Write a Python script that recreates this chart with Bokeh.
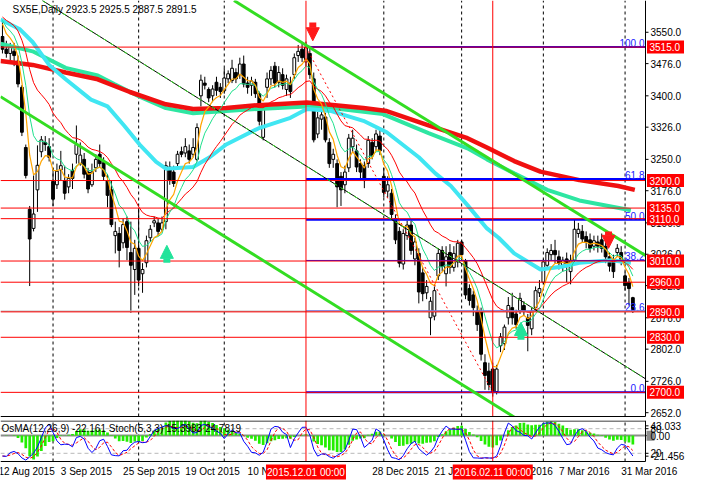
import numpy as np
import pandas as pd
from bokeh.plotting import figure
from bokeh.models import Range1d, Label, Arrow, NormalHead, ColumnDataSource
from bokeh.layouts import column
from bokeh.embed import file_html
from bokeh.resources import INLINE
from bokeh.core.properties import value

# ---------------- data (SX5E daily, 13 Aug 2015 .. 5 Apr 2016) ----------------
opens = [3540,3510,3500,3505,3482,3420,3278,3132,3087,3178,3268,3290,3280,3198,3190,3225,3200,3185,3224,3262,
         3240,3250,3220,3190,3230,3262,3242,3200,3178,3070,3075,3053,3103,3030,2990,3040,2980,3006,3065,3100,
         3100,3085,3103,3232,3220,3240,3268,3265,3270,3262,3250,3400,3430,3415,3400,3432,3420,3412,3440,3436,
         3455,3450,3475,3430,3425,3432,3405,3302,3420,3440,3470,3432,3450,3415,3430,3450,3495,3510,3480,3500,
         3440,3310,3345,3350,3290,3250,3240,3210,3190,3230,3280,3270,3240,3235,3240,3290,3280,3305,3210,3175,
         3170,3110,3080,3003,3070,3095,3015,3028,2982,2935,2876,2880,2975,3035,2980,3030,2995,3008,3055,3010,
         2945,2930,2892,2890,2770,2750,2755,2702,2810,2815,2876,2900,2885,2893,2905,2876,2850,2900,2935,2960,
         3000,3025,3035,3020,3000,3015,2985,3012,3075,3080,3068,3060,3045,3055,3060,3045,3020,3012,3030,3030,
         2975,2960,2923.5]
highs = [3575,3530,3525,3525,3495,3425,3285,3140,3212,3283,3305,3305,3300,3230,3240,3270,3235,3215,3240,3330,
         3290,3265,3230,3240,3262,3285,3255,3215,3200,3103,3090,3110,3115,3103,3060,3135,3005,3070,3095,3115,
         3110,3115,3245,3245,3235,3270,3280,3300,3285,3300,3335,3450,3445,3420,3425,3445,3430,3465,3460,3485,
         3465,3490,3495,3445,3445,3440,3410,3375,3455,3470,3480,3470,3465,3450,3445,3500,3520,3525,3528,3518,
         3455,3362,3375,3360,3300,3275,3250,3220,3235,3310,3320,3285,3250,3245,3305,3300,3320,3320,3230,3210,
         3180,3120,3090,3085,3105,3105,3065,3040,2995,2965,2925,2950,3040,3045,3045,3050,3045,3060,3060,3015,
         2955,2940,2905,2900,2790,2770,2770,2765,2840,2860,2925,2935,2895,2935,2915,2885,2900,2950,2965,3015,
         3040,3050,3060,3035,3020,3030,3025,3108,3100,3095,3080,3075,3070,3070,3075,3060,3030,3025,3050,3045,
         2985,2970,2925.5]
lows = [3500,3490,3480,3470,3420,3305,3205,2951,3080,3126,3255,3270,3245,3140,3180,3200,3155,3170,3180,3240,
        3235,3205,3170,3185,3220,3230,3200,3137,3090,3028,2995,3040,3012,2888,2930,2950,2935,2995,3055,3090,
        3070,3080,3085,3190,3185,3230,3255,3255,3240,3255,3245,3375,3415,3385,3385,3400,3395,3405,3430,3430,
        3430,3440,3420,3405,3400,3395,3330,3295,3395,3425,3420,3420,3415,3400,3395,3440,3480,3480,3470,3440,
        3290,3300,3320,3290,3230,3230,3137,3140,3170,3220,3265,3220,3200,3182,3230,3250,3270,3260,3160,3160,
        3110,3050,2995,2990,3060,3025,3000,2910,2915,2920,2835,2870,2965,2985,2950,2980,2985,2995,3015,2920,
        2905,2880,2845,2775,2706,2705,2690,2695,2795,2800,2860,2860,2850,2885,2880,2797,2835,2890,2925,2955,
        2990,3010,3005,2990,2985,2960,2955,3005,3065,3055,3040,3030,3035,3030,3030,3005,2985,2970,3020,3000,
        2940,2905,2887.5]
closes = [3510,3500,3515,3495,3428,3314,3212,3062,3121,3236,3296,3285,3255,3156,3222,3235,3170,3205,3205,3285,
          3260,3215,3180,3220,3250,3240,3210,3165,3096,3080,3035,3096,3042,3000,3040,2965,2990,3058,3085,3105,
          3080,3100,3235,3200,3193,3262,3262,3280,3250,3278,3325,3437,3425,3395,3416,3413,3410,3442,3452,3465,
          3440,3475,3428,3420,3435,3405,3340,3368,3440,3460,3430,3455,3425,3440,3410,3490,3505,3490,3515,3450,
          3296,3348,3355,3296,3240,3262,3185,3178,3220,3300,3300,3232,3220,3200,3295,3258,3310,3270,3172,3190,
          3120,3060,3005,3075,3095,3035,3055,2937,2933,2950,2915,2940,3028,2997,3020,2995,3028,3052,3025,2930,
          2917,2900,2860,2790,2740,2718,2700,2755,2831,2854,2905,2876,2860,2922,2892,2858,2892,2940,2945,3008,
          3030,3035,3025,3005,3012,2998,3010,3085,3085,3062,3055,3040,3058,3045,3040,3020,2998,2985,3040,3010,
          2952,2945,2891.5]

# long moving averages (bar index, price)
ma200_idx = [-0.5, 7.75, 16.25, 24.5, 32.75, 42, 49, 57.5, 65.75, 78.25, 92.75, 98.75, 109.5, 119.5, 124.5, 131.5, 138.25, 148.25, 158.25, 162.5]
ma200_val = [3482, 3473, 3455, 3439, 3409, 3380, 3369, 3371, 3378, 3384, 3371, 3364, 3330, 3300, 3278, 3246, 3221, 3201, 3187, 3178]
ma100_idx = [-0.5, 7.75, 16.25, 24.5, 28.75, 35.25, 42, 49, 57.5, 65.75, 78.25, 84.5, 97.75, 109.5, 119.5, 124.5, 131.5, 140, 148.25, 161.5]
ma100_val = [3523, 3505, 3466, 3448, 3428, 3398, 3371, 3359, 3364, 3369, 3375, 3371, 3357, 3312, 3276, 3250, 3217, 3178, 3153, 3130]
ma50_idx = [-0.5, 4.5, 7.75, 12, 16.25, 22.75, 27, 31.25, 35.25, 39.5, 42, 49, 53.25, 57.5, 65.75, 74, 78.25, 84.5, 92.75, 98.75,
            107, 111.25, 115.25, 119.5, 124.5, 127.5, 131.5, 138.25, 144, 148.25, 156.5, 161.5]
ma50_val = [3580, 3557, 3527, 3473, 3439, 3391, 3375, 3330, 3285, 3244, 3228, 3232, 3255, 3285, 3323, 3348, 3369, 3364, 3341, 3314,
            3255, 3217, 3187, 3142, 3087, 3065, 3028, 2990, 2997, 3006, 3012, 3006]
# starting values of the short averages at the first bar
ema_fast_start, ema_mid_start, ema_slow_start = 3570, 3578, 3586

# horizontal levels, fibonacci and trend objects
h_levels = [3515, 3200, 3135, 3110, 3010, 2960, 2890, 2830, 2700]
fibo_high, fibo_low = 3515, 2700
fibo_high_idx, fibo_low_idx = 78, 126
fibo_ratios = [1.0, 0.618, 0.5, 0.382, 0.236, 0.0]
fibo_texts = ["100.0", "61.8", "50.0", "38.2", "23.6", "0.0"]
chan_upper_idx, chan_upper_val = [59.5, 165.25], [3625, 3023]
chan_lower_idx, chan_lower_val = [-0.5, 165.25], [3398, 2448]
chan_mid_idx, chan_mid_val = [10.25, 165.25], [3625, 2732]
arrow_idx = [79.75, 155.75, 42.25, 133.25]
arrow_tail = [3573, 3080, 3006, 2824]
arrow_tip = [3530, 3040, 3047, 2865]
arrow_col = ["#FF1A1A", "#FF1A1A", "#22E39A", "#22E39A"]

price_ticks = [3550, 3476, 3400, 3326, 3250, 3176, 3100, 3026, 2952, 2876, 2802, 2726, 2652]
date_idx = [-1, 15, 31, 47, 63, 95, 111, 127, 143, 159]
date_labels = ["12 Aug 2015", "3 Sep 2015", "25 Sep 2015", "19 Oct 2015", "10 Nov 2015",
               "28 Dec 2015", "21 Jan 2016", "12 Feb 2016", "7 Mar 2016", "31 Mar 2016"]
grid_idx = [13, 35, 57, 98, 118, 139, 160]
marker_idx = [78, 126]
marker_text = ["2015.12.01 00:00", "2016.02.11 00:00"]
sub_ticks = [87, 80, 63, 20, 13]
sub_tick_labels = ["43.033", "80", "0.00", "20", "-21.456"]

# ---------------- derived indicator series ----------------
n = len(closes)
idx = np.arange(n)
c = pd.Series(closes, dtype=float)
hi = pd.Series(highs, dtype=float)
lo = pd.Series(lows, dtype=float)

def ema(series, period, start):
    a = 2.0 / (period + 1)
    out = [start]
    for v in series[1:]:
        out.append(a * v + (1 - a) * out[-1])
    return out

ema_fast = ema(list(c), 5, ema_fast_start)
ema_mid = ema(list(c), 9, ema_mid_start)
ema_slow = ema(list(c), 21, ema_slow_start)

macd = c.ewm(span=12, adjust=False).mean() - c.ewm(span=26, adjust=False).mean()
osma = macd - macd.rolling(9, min_periods=1).mean()
ll = lo.rolling(5, min_periods=1).min()
hh = hi.rolling(5, min_periods=1).max()
stk = 100 * (c - ll).rolling(3, min_periods=1).sum() / (hh - ll).rolling(3, min_periods=1).sum()
std = stk.rolling(3, min_periods=1).mean()

# ---------------- geometry ----------------
FONT = "Liberation Sans"
W_TOTAL, W_CHART = 685, 645
X0, X1 = -0.5, 165.25
XE = X0 + (X1 - X0) * W_TOTAL / W_CHART
PX = (XE - X0) / W_TOTAL          # bars per pixel
YB, Y1 = 2643, 3625               # chart bottom border / top
H_CHART, H_PAD = 416, 4
PY = (Y1 - YB) / H_CHART           # price per pixel
Y0 = YB - H_PAD * PY               # frame bottom (room for the lowest scale label)
H_SUB, H_DATES = 41, 21
S0 = -100.0 * H_DATES / H_SUB
PS = 100.0 / H_SUB                 # stoch units per pixel

# ---------------- main price panel ----------------
p = figure(frame_width=W_TOTAL, frame_height=H_CHART + H_PAD, x_range=Range1d(X0, XE), y_range=Range1d(Y0, Y1),
           x_axis_location=None, y_axis_location=None, toolbar_location=None, output_backend="svg",
           min_border=0, outline_line_color=None, background_fill_color="white", border_fill_color="white")
p.grid.visible = False

p.segment(x0=grid_idx, y0=[YB] * len(grid_idx), x1=grid_idx, y1=[Y1] * len(grid_idx),
          line_color="black", line_dash="3 3", line_width=1)

src = ColumnDataSource(dict(x=idx, h=highs, l=lows,
                            top=np.maximum(opens, closes), bot=np.minimum(opens, closes),
                            fill=["white" if cc >= oo else "black" for oo, cc in zip(opens, closes)]))
p.segment(x0="x", y0="l", x1="x", y1="h", source=src, line_color="black", line_width=1)
p.vbar(x="x", top="top", bottom="bot", width=0.72, source=src, fill_color="fill", line_color="black", line_width=1)

# moving averages
p.line(ma100_idx, ma100_val, line_color="#2EE6A2", line_width=4)
p.line(ma200_idx, ma200_val, line_color="#F01010", line_width=4.5)
p.line(ma50_idx, ma50_val, line_color="#40E6F2", line_width=4)
p.line(idx, ema_slow, line_color="#FF0000", line_width=1)
p.line(idx, ema_mid, line_color="#1EE08C", line_width=1)
p.line(idx, ema_fast, line_color="#FFA500", line_width=1.2)

# fibonacci
fib_vals = [fibo_low + r * (fibo_high - fibo_low) for r in fibo_ratios]
fib_width = [2, 2, 2, 1, 1, 2]
p.segment(x0=[fibo_high_idx] * len(fib_vals), y0=fib_vals, x1=[X1] * len(fib_vals), y1=fib_vals,
          line_color="#0000FF", line_width=fib_width)
p.line([fibo_high_idx, fibo_low_idx], [fibo_high, fibo_low], line_color="#FF0000", line_width=1, line_dash="2 3")
p.text(x=[X1 - 1.0 * PX] * len(fib_vals), y=fib_vals, text=fibo_texts, text_align="right", text_baseline="bottom",
       text_color="#2020FF", text_font=value(FONT), text_font_size="10px")

# bid line and horizontal levels
p.line([X0, X1], [closes[-1], closes[-1]], line_color="#C0C0C0", line_width=1.5)
p.segment(x0=[X0] * len(h_levels), y0=h_levels, x1=[X1] * len(h_levels), y1=h_levels,
          line_color="#FF0000", line_width=1)
p.segment(x0=marker_idx, y0=[YB] * 2, x1=marker_idx, y1=[Y1] * 2, line_color="#FF0000", line_width=1)

# channel
p.line(chan_upper_idx, chan_upper_val, line_color="#33DD22", line_width=3)
p.line(chan_lower_idx, chan_lower_val, line_color="#33DD22", line_width=3)
p.line(chan_mid_idx, chan_mid_val, line_color="black", line_width=1)
p.line(chan_mid_idx, chan_mid_val, line_color="#33DD22", line_width=1, line_dash="4 4")

for ax, at, tp, col in zip(arrow_idx, arrow_tail, arrow_tip, arrow_col):
    p.add_layout(Arrow(end=NormalHead(size=13, fill_color=col, line_color=col),
                       x_start=ax, y_start=at, x_end=ax, y_end=tp, line_color=col, line_width=7))

# masks: strip under the chart and the price-scale area
p.rect(x=[(X0 + XE) / 2], y=[Y0 + H_PAD * PY / 2], width=W_TOTAL, height=H_PAD, width_units="screen",
       height_units="screen", fill_color="white", line_color=None)
p.rect(x=[X1 + 20 * PX], y=[(Y0 + Y1) / 2], width=40, height=H_CHART + H_PAD, width_units="screen",
       height_units="screen", fill_color="white", line_color=None)

# right price scale
p.line([X1, X1], [YB, Y1], line_color="black", line_width=1)
p.line([X0, X1], [YB, YB], line_color="black", line_width=1)
p.segment(x0=[X1] * len(price_ticks), y0=price_ticks, x1=[X1 + 3 * PX] * len(price_ticks), y1=price_ticks,
          line_color="black", line_width=1)
p.text(x=[X1 + 5 * PX] * len(price_ticks), y=price_ticks, text=[f"{t:.1f}" for t in price_ticks],
       text_align="left", text_baseline="middle", text_color="black",
       text_font=value(FONT), text_font_size="10px")
p.rect(x=[X1 + 20 * PX] * len(h_levels), y=h_levels, width=37, height=13, width_units="screen",
       height_units="screen", fill_color="#FF0000", line_color=None)
p.text(x=[X1 + 4 * PX] * len(h_levels), y=h_levels, text=[f"{lv:.1f}" for lv in h_levels],
       text_align="left", text_baseline="middle", text_color="white",
       text_font=value(FONT), text_font_size="10px")

p.add_layout(Label(x=X0, y=Y1, x_offset=12, y_offset=-3, text="SX5E,Daily  2923.5 2925.5 2887.5 2891.5",
                   text_baseline="top", text_font=FONT, text_font_size="10px", text_color="black"))

# ---------------- indicator panel ----------------
q = figure(frame_width=W_TOTAL, frame_height=H_SUB + H_DATES, x_range=p.x_range, y_range=Range1d(S0, 100),
           x_axis_location=None, y_axis_location=None, toolbar_location=None, output_backend="svg",
           min_border=0, outline_line_color=None,
           background_fill_color="white", border_fill_color="white")
q.grid.visible = False
lo_r = float(osma.min()) * 1.08
q.extra_y_ranges = {"osma": Range1d(lo_r - (-lo_r / 0.632) * (H_DATES / H_SUB), -lo_r * 0.368 / 0.632)}

q.segment(x0=grid_idx, y0=[0] * len(grid_idx), x1=grid_idx, y1=[100] * len(grid_idx),
          line_color="black", line_dash="3 3", line_width=1)
q.segment(x0=[X0, X0], y0=[80, 20], x1=[X1, X1], y1=[80, 20], line_color="#B8B8B8", line_dash="4 3", line_width=1)
q.line([X0, X1], [0, 0], y_range_name="osma", line_color="#8C8C8C", line_width=2)
q.vbar(x=idx, top=list(osma), bottom=0, width=0.7, y_range_name="osma", fill_color="#22EE00", line_color=None)
q.line(idx, list(std), line_color="#FF0000", line_width=1, line_dash="3 2")
q.line(idx, list(stk), line_color="#0000FF", line_width=1)
q.segment(x0=marker_idx, y0=[0] * 2, x1=marker_idx, y1=[100] * 2, line_color="#FF0000", line_width=1)

# frame of the sub window
q.rect(x=[(X0 + XE) / 2], y=[S0 / 2], width=W_TOTAL, height=H_DATES, width_units="screen",
       height_units="screen", fill_color="white", line_color=None)
q.rect(x=[X1 + 20 * PX], y=[50], width=40, height=H_SUB, width_units="screen", height_units="screen",
       fill_color="white", line_color=None)
q.line([X0, X1], [100 - 0.5 * PS, 100 - 0.5 * PS], line_color="black", line_width=1)
q.line([X0, X1], [0, 0], line_color="black", line_width=1)
q.line([X1, X1], [0, 100], line_color="black", line_width=1)
q.segment(x0=[X1] * len(sub_ticks), y0=sub_ticks, x1=[X1 + 3 * PX] * len(sub_ticks), y1=sub_ticks,
          line_color="black", line_width=1)
q.rect(x=[X1 + 5 * PX], y=[63], width=8, height=10, width_units="screen", height_units="screen",
       fill_color="#8C8C8C", line_color=None)
q.text(x=[X1 + 5 * PX] * len(sub_ticks), y=sub_ticks, text=sub_tick_labels, text_align="left",
       text_baseline="middle", text_color="black", text_font=value(FONT), text_font_size="10px")

# date scale
q.text(x=date_idx, y=[-4 * PS] * len(date_idx), text=date_labels, text_align="left", text_baseline="top",
       text_color="black", text_font=value(FONT), text_font_size="10px")
q.rect(x=marker_idx, y=[-10.5 * PS] * 2, width=80, height=15, width_units="screen", height_units="screen",
       fill_color="#FF0000", line_color=None)
q.text(x=marker_idx, y=[-10.5 * PS] * 2, text=marker_text, text_align="center", text_baseline="middle",
       text_color="white", text_font=value(FONT), text_font_size="10px")

q.add_layout(Label(x=X0, y=100, x_offset=1, y_offset=-2, text="OsMA(12,26,9) -22.161  Stoch(5,3,3) 15.3983 24.7819",
                   text_baseline="top", text_font=FONT, text_font_size="10px", text_color="black"))

layout = column(p, q, spacing=0)
open("out.html", "w").write(file_html(layout, INLINE))
